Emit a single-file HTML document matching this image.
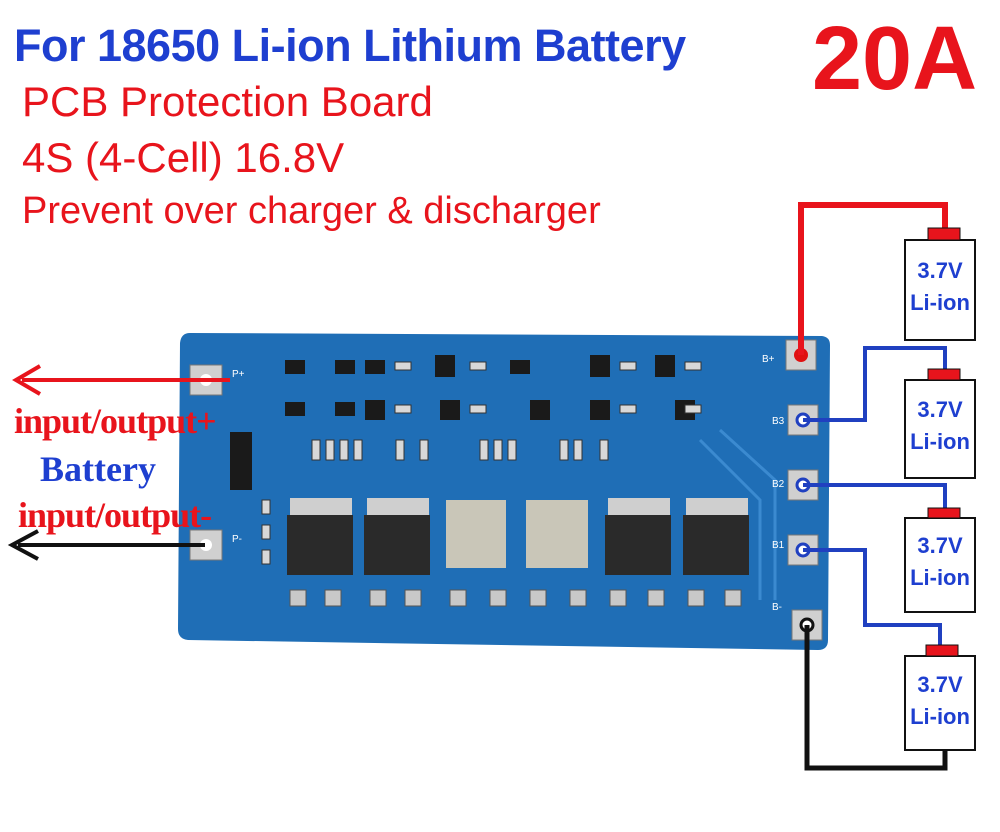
<!DOCTYPE html>
<html><head><style>
body{margin:0;width:1000px;height:832px;background:#fff;overflow:hidden;position:relative;font-family:"Liberation Sans",sans-serif}
.a{position:absolute;white-space:nowrap}
</style></head><body>
<div class="a" style="left:14px;top:20px;font-size:45px;font-weight:bold;color:#1e3fd0;letter-spacing:-0.5px">For 18650 Li-ion Lithium Battery</div>
<div class="a" style="left:812px;top:8px;font-size:90px;font-weight:bold;color:#e8141c">20A</div>
<div class="a" style="left:22px;top:78px;font-size:42px;color:#e8141c">PCB Protection Board</div>
<div class="a" style="left:22px;top:134px;font-size:42px;color:#e8141c">4S (4-Cell) 16.8V</div>
<div class="a" style="left:22px;top:190px;font-size:38px;color:#e8141c">Prevent over charger &amp; discharger</div>

<svg class="a" style="left:0;top:0" width="1000" height="832">
<path d="M190 333 L822 336 Q830 337 830 345 L828 640 Q828 650 818 650 L188 640 Q178 639 178 629 L180 343 Q181 333 190 333Z" fill="#1f6eb6"/>
<path d="M700 440 L760 500 L760 600" stroke="#3b8ad0" stroke-width="3" fill="none"/>
<path d="M720 430 L775 480 L775 600" stroke="#3b8ad0" stroke-width="3" fill="none"/>
<g fill="#1a1a1a">
<rect x="285" y="360" width="20" height="14"/><rect x="335" y="360" width="20" height="14"/><rect x="365" y="360" width="20" height="14"/>
<rect x="435" y="355" width="20" height="22"/><rect x="510" y="360" width="20" height="14"/><rect x="590" y="355" width="20" height="22"/><rect x="655" y="355" width="20" height="22"/>
<rect x="285" y="402" width="20" height="14"/><rect x="335" y="402" width="20" height="14"/><rect x="365" y="400" width="20" height="20"/>
<rect x="440" y="400" width="20" height="20"/><rect x="530" y="400" width="20" height="20"/><rect x="590" y="400" width="20" height="20"/><rect x="675" y="400" width="20" height="20"/>
<rect x="230" y="432" width="22" height="58"/>
</g>
<g fill="#d8d8d8" stroke="#333" stroke-width="1">
<rect x="312" y="440" width="8" height="20"/><rect x="326" y="440" width="8" height="20"/><rect x="340" y="440" width="8" height="20"/><rect x="354" y="440" width="8" height="20"/>
<rect x="396" y="440" width="8" height="20"/><rect x="420" y="440" width="8" height="20"/><rect x="480" y="440" width="8" height="20"/><rect x="494" y="440" width="8" height="20"/>
<rect x="508" y="440" width="8" height="20"/><rect x="560" y="440" width="8" height="20"/><rect x="574" y="440" width="8" height="20"/><rect x="600" y="440" width="8" height="20"/>
<rect x="395" y="362" width="16" height="8"/><rect x="470" y="362" width="16" height="8"/><rect x="620" y="362" width="16" height="8"/><rect x="685" y="362" width="16" height="8"/>
<rect x="395" y="405" width="16" height="8"/><rect x="470" y="405" width="16" height="8"/><rect x="620" y="405" width="16" height="8"/><rect x="685" y="405" width="16" height="8"/>
<rect x="262" y="500" width="8" height="14"/><rect x="262" y="525" width="8" height="14"/><rect x="262" y="550" width="8" height="14"/>
</g>
<g>
<rect x="290" y="498" width="62" height="20" fill="#cfcfcf"/><rect x="287" y="515" width="66" height="60" fill="#2a2a2a"/>
<rect x="367" y="498" width="62" height="20" fill="#cfcfcf"/><rect x="364" y="515" width="66" height="60" fill="#2a2a2a"/>
<rect x="608" y="498" width="62" height="20" fill="#cfcfcf"/><rect x="605" y="515" width="66" height="60" fill="#2a2a2a"/>
<rect x="686" y="498" width="62" height="20" fill="#cfcfcf"/><rect x="683" y="515" width="66" height="60" fill="#2a2a2a"/>
<rect x="446" y="500" width="60" height="68" fill="#c9c6b8"/><rect x="526" y="500" width="62" height="68" fill="#c9c6b8"/>
</g>
<g fill="#c8c8c8" stroke="#555">
<rect x="290" y="590" width="16" height="16"/><rect x="325" y="590" width="16" height="16"/><rect x="370" y="590" width="16" height="16"/><rect x="405" y="590" width="16" height="16"/>
<rect x="450" y="590" width="16" height="16"/><rect x="490" y="590" width="16" height="16"/><rect x="530" y="590" width="16" height="16"/><rect x="570" y="590" width="16" height="16"/>
<rect x="610" y="590" width="16" height="16"/><rect x="648" y="590" width="16" height="16"/><rect x="688" y="590" width="16" height="16"/><rect x="725" y="590" width="16" height="16"/>
</g>
<g fill="#d0d0d0" stroke="#777">
<rect x="190" y="365" width="32" height="30"/><rect x="190" y="530" width="32" height="30"/>
<rect x="786" y="340" width="30" height="30"/><rect x="788" y="405" width="30" height="30"/><rect x="788" y="470" width="30" height="30"/><rect x="788" y="535" width="30" height="30"/><rect x="792" y="610" width="30" height="30"/>
</g>
<g fill="#fff"><circle cx="206" cy="380" r="6"/><circle cx="206" cy="545" r="6"/></g>
<g fill="#e01010"><circle cx="801" cy="355" r="7"/></g>
<g fill="#fff" stroke="#2040c0" stroke-width="3"><circle cx="803" cy="420" r="6"/><circle cx="803" cy="485" r="6"/><circle cx="803" cy="550" r="6"/></g>
<circle cx="807" cy="625" r="6" fill="#fff" stroke="#111" stroke-width="3"/>
<g fill="#fff" font-size="10"><text x="232" y="377">P+</text><text x="232" y="542">P-</text><text x="762" y="362">B+</text><text x="772" y="424">B3</text><text x="772" y="487">B2</text><text x="772" y="548">B1</text><text x="772" y="610">B-</text></g>
<line x1="230" y1="380" x2="22" y2="380" stroke="#e8141c" stroke-width="4"/>
<path d="M40 366 L16 380 L40 394" stroke="#e8141c" stroke-width="4" fill="none"/>
<line x1="205" y1="545" x2="18" y2="545" stroke="#111" stroke-width="4"/>
<path d="M38 531 L12 545 L38 559" stroke="#111" stroke-width="4" fill="none"/>
<path d="M801 355 L801 205 L945 205 L945 228" stroke="#e8141c" stroke-width="6" fill="none"/>
<path d="M803 420 L865 420 L865 348 L945 348 L945 370" stroke="#2040c0" stroke-width="4" fill="none"/>
<path d="M803 485 L945 485 L945 508" stroke="#2040c0" stroke-width="4" fill="none"/>
<path d="M803 550 L865 550 L865 625 L940 625 L940 645" stroke="#2040c0" stroke-width="4" fill="none"/>
<path d="M807 625 L807 768 L945 768 L945 750" stroke="#111" stroke-width="5" fill="none"/>
<g fill="#fff" stroke="#111" stroke-width="2">
<rect x="905" y="240" width="70" height="100"/><rect x="905" y="380" width="70" height="98"/><rect x="905" y="518" width="70" height="94"/><rect x="905" y="656" width="70" height="94"/>
</g>
<g fill="#e8141c" stroke="#111">
<rect x="928" y="228" width="32" height="12"/><rect x="928" y="369" width="32" height="11"/><rect x="928" y="508" width="32" height="10"/><rect x="926" y="645" width="32" height="11"/>
</g>
<g fill="#1e3fd0" font-size="22" font-weight="bold" text-anchor="middle">
<text x="940" y="278">3.7V</text><text x="940" y="310">Li-ion</text>
<text x="940" y="417">3.7V</text><text x="940" y="449">Li-ion</text>
<text x="940" y="553">3.7V</text><text x="940" y="585">Li-ion</text>
<text x="940" y="692">3.7V</text><text x="940" y="724">Li-ion</text>
</g>
</svg>
<div class="a" style="left:14px;top:400px;font-family:'Liberation Serif',serif;font-weight:bold;font-size:36px;color:#e8141c;letter-spacing:-1px">input/output+</div>
<div class="a" style="left:40px;top:448px;font-family:'Liberation Serif',serif;font-weight:bold;font-size:36px;color:#1e3fd0">Battery</div>
<div class="a" style="left:18px;top:494px;font-family:'Liberation Serif',serif;font-weight:bold;font-size:36px;color:#e8141c;letter-spacing:-1px">input/output-</div>
</body></html>
